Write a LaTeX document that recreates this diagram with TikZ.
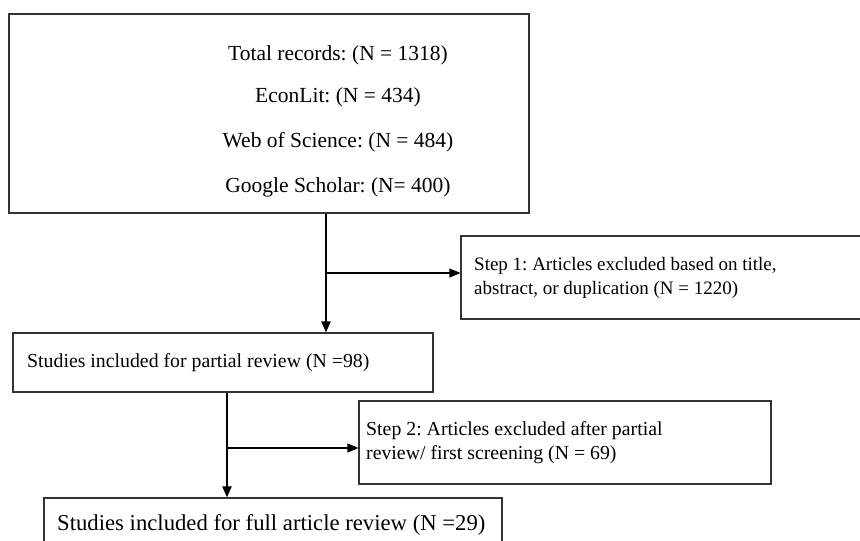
\documentclass[tikz,border=0pt]{standalone}
\usepackage{fontspec}
\setmainfont{Liberation Serif}
\frenchspacing
\usetikzlibrary{arrows.meta}
\begin{document}
\begin{tikzpicture}[x=1pt,y=-1pt,
  boxframe/.style={draw=black!80, line width=1.1pt, inner sep=0pt},
  bigtext/.style={font=\fontsize{21.5}{26}\selectfont, inner sep=0pt},
  smalltext/.style={font=\fontsize{19}{24}\selectfont, inner sep=0pt, align=left},
  midtext/.style={font=\fontsize{19.8}{24}\selectfont, inner sep=0pt, align=left},
  lowtext/.style={font=\fontsize{22.7}{26}\selectfont, inner sep=0pt, align=left},
  trunk/.style={line width=1.9pt, -{Triangle[length=11pt,width=9pt]}},
  branch/.style={line width=1.1pt, -{Triangle[length=11pt,width=9pt]}}]
\useasboundingbox (0,0) rectangle (860,541);
\fill[white] (0,0) rectangle (860,541);
\begin{scope}
\clip (0,0) rectangle (860,541);
% boxes
\node[boxframe, minimum width=520pt, minimum height=199pt] (top) at (269,113.5) {};
\node[boxframe, minimum width=440pt, minimum height=83pt] (s1) at (681,277.5) {};
\node[boxframe, minimum width=420pt, minimum height=59pt] (b2) at (223,362.5) {};
\node[boxframe, minimum width=412pt, minimum height=83pt] (s2) at (565,442.5) {};
\node[boxframe, minimum width=458pt, minimum height=80pt] (b3) at (273,538) {};
\end{scope}
% texts
\node[bigtext] (t1) at (338,55) {Total records: (N = 1318)};
\node[bigtext] (t2) at (338,97) {EconLit: (N = 434)};
\node[bigtext] (t3) at (338,142) {Web of Science: (N = 484)};
\node[bigtext] (t4) at (338,187) {Google Scholar: (N= 400)};
\node[smalltext, anchor=west] (s1t) at (474,277.5) {Step 1: Articles excluded based on title,\\abstract, or duplication (N = 1220)};
\node[midtext, anchor=west] (b2t) at (27,362.5) {Studies included for partial review (N =98)};
\node[midtext, anchor=west] (s2t) at (366,442.5) {Step 2: Articles excluded after partial\\review/ first screening (N = 69)};
\node[lowtext, anchor=west] (b3t) at (57,525) {Studies included for full article review (N =29)};
% connectors
\coordinate (j1) at (326,273);
\coordinate (j2) at (227,448);
\draw[trunk] (top.south -| j1) -- (b2.north -| j1);
\draw[branch] (j1) -- (s1.west |- j1);
\draw[trunk] (b2.south -| j2) -- (b3.north -| j2);
\draw[branch] (j2) -- (s2.west |- j2);
\end{tikzpicture}
\end{document}
